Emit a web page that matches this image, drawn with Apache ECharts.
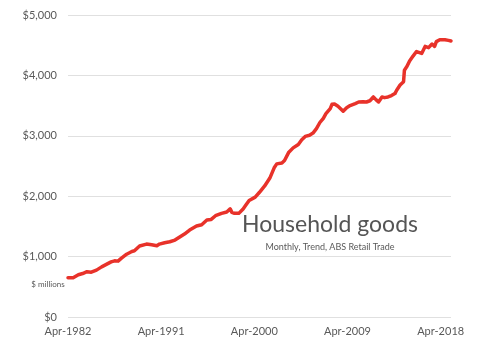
<!DOCTYPE html>
<html>
<head>
<meta charset="utf-8">
<script src="https://cdn.jsdelivr.net/npm/echarts@6/dist/echarts.min.js"></script>
<style>html,body{margin:0;padding:0;background:#fff}#c{width:500px;height:364px}</style>
</head>
<body>
<div id="c"></div>
<script>
// Monthly dates (YYYY-MM) sampled from the picture, and values ($ millions)
var dates = ['1982-04','1982-10','1983-04','1983-09','1984-02','1984-07','1985-01','1985-07','1986-01','1986-06','1986-10','1987-02','1987-06','1987-12','1988-06','1988-09','1989-03','1989-11','1990-05','1990-11','1991-02','1991-08','1992-02','1992-08','1993-02','1993-07','1994-01','1994-09','1995-03','1995-09','1996-02','1996-07','1997-02','1997-08','1997-10','1997-12','1998-02','1998-05','1998-10','1999-03','1999-06','1999-10','2000-05','2000-10','2001-04','2001-10','2002-03','2002-06','2002-12','2003-03','2003-08','2004-01','2004-07','2004-11','2005-03','2005-08','2005-12','2006-04','2006-08','2006-12','2007-03','2007-08','2007-10','2008-01','2008-05','2008-11','2009-03','2009-07','2010-01','2010-05','2010-10','2011-02','2011-06','2011-10','2012-01','2012-04','2012-08','2012-11','2013-03','2013-07','2013-11','2014-01','2014-05','2014-09','2014-10','2015-01','2015-04','2015-08','2015-12','2016-02','2016-06','2016-10','2017-02','2017-06','2017-09','2017-11','2018-03','2018-09','2019-01','2019-04'];
var values = [650,650,700,720,750,742,776,830,875,913,930,925,975,1040,1085,1096,1175,1207,1196,1180,1207,1229,1246,1274,1329,1373,1440,1506,1528,1606,1616,1677,1716,1738,1745,1790,1732,1716,1716,1789,1850,1930,1985,2065,2170,2300,2470,2535,2550,2590,2729,2800,2857,2935,2990,3010,3045,3118,3220,3290,3367,3450,3521,3525,3488,3408,3466,3500,3533,3560,3565,3560,3580,3643,3599,3560,3643,3632,3643,3666,3699,3754,3840,3895,4086,4150,4240,4320,4395,4412,4363,4480,4460,4520,4480,4560,4590,4590,4580,4570];
var xTickLabels = ['Apr-1982','Apr-1991','Apr-2000','Apr-2009','Apr-2018'];
var yTicks = [0,1000,2000,3000,4000,5000];
var title = 'Household goods';
var subtitle = 'Monthly, Trend, ABS Retail Trade';
var unitLabel = '$ millions';

function monthIndex(s){var p=s.split('-');return (parseInt(p[0],10)-1982)*12+(parseInt(p[1],10)-4);}
var seriesData = dates.map(function(d,i){return [monthIndex(d), values[i]];});
var FONT = 'Lato, "Open Sans", sans-serif';
var chart = echarts.init(document.getElementById('c'), null, {renderer:'canvas'});
chart.setOption({
  animation:false,
  backgroundColor:'#fff',
  grid:{left:68,right:49,top:15,bottom:47},
  xAxis:{
    type:'value', min:0, max:444, interval:108,
    axisLine:{show:false}, axisTick:{show:false}, splitLine:{show:false},
    axisLabel:{color:'#595959', fontSize:11, fontFamily:FONT, margin:9, showMaxLabel:false,
      formatter:function(v){var k=Math.round(v/108);return (v%108===0 && xTickLabels[k])?xTickLabels[k]:'';}}
  },
  yAxis:{
    type:'value', min:yTicks[0], max:yTicks[yTicks.length-1], interval:1000,
    axisLine:{show:false}, axisTick:{show:false},
    splitLine:{lineStyle:{color:'#e0e0e0', width:1}},
    axisLabel:{color:'#595959', fontSize:11, fontFamily:FONT, margin:11,
      formatter:function(v){return '$'+String(v).replace(/\B(?=(\d{3})+(?!\d))/g, ',');}}
  },
  series:[{
    type:'line', data:seriesData, showSymbol:false, symbol:'none',
    lineStyle:{color:'#e8322a', width:3.5, cap:'round', join:'round'}
  }],
  graphic:[
    {type:'text', x:330, y:225, style:{text:title, fill:'#555555', font:'23px '+FONT, textAlign:'center', textVerticalAlign:'middle'}},
    {type:'text', x:330, y:247, style:{text:subtitle, fill:'#595959', font:'9px '+FONT, textAlign:'center', textVerticalAlign:'middle'}},
    {type:'text', x:48, y:284, style:{text:unitLabel, fill:'#595959', font:'8px '+FONT, textAlign:'center', textVerticalAlign:'middle'}}
  ]
});
</script>
</body>
</html>
